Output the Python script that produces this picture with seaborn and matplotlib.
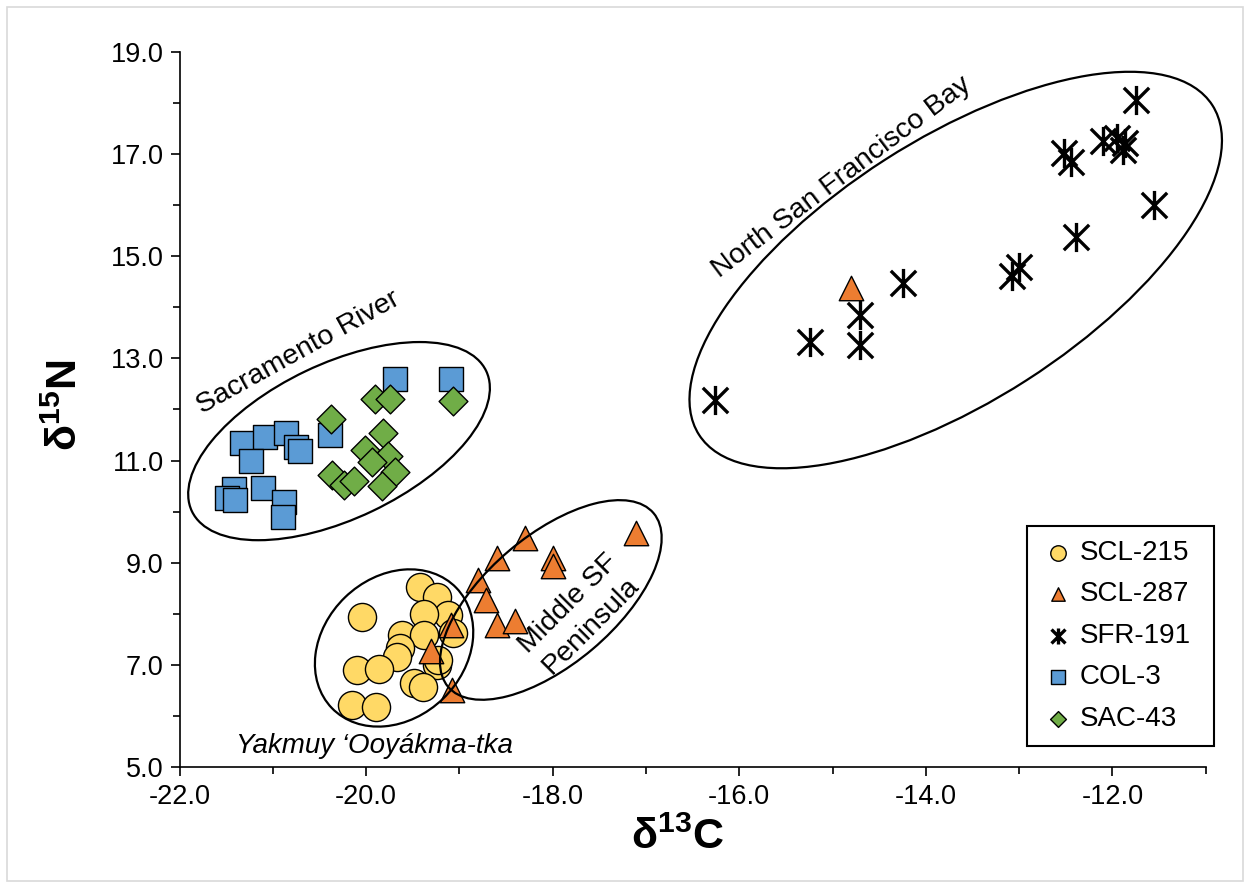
import numpy as np
import pandas as pd
import matplotlib
matplotlib.use('Agg')
import matplotlib.pyplot as plt
import matplotlib.transforms as mtransforms
from matplotlib.patches import Ellipse, Rectangle
from matplotlib.path import Path
from matplotlib.ticker import MultipleLocator, FormatStrFormatter
import seaborn as sns

# d13C / d15N values
scl215_c = [-19.42, -19.24, -20.04, -19.12, -19.38, -19.62, -19.07, -19.38, -19.64,
            -19.67, -20.10, -19.86, -19.24, -19.23, -19.49, -19.39, -20.15, -19.89]
scl215_n = [8.53, 8.33, 7.94, 7.98, 8.00, 7.58, 7.62, 7.58, 7.32,
            7.16, 6.90, 6.91, 7.00, 7.10, 6.64, 6.57, 6.21, 6.17]

scl287_c = [-17.11, -18.30, -18.60, -18.00, -18.00, -18.80, -18.71, -18.60, -18.40,
            -19.09, -19.30, -19.08, -14.80]
scl287_n = [9.58, 9.48, 9.09, 9.09, 8.94, 8.67, 8.27, 7.78, 7.86,
            7.78, 7.27, 6.51, 14.37]

sfr191_c = [-16.26, -15.24, -14.71, -14.71, -14.25, -13.08, -13.00, -12.39, -11.56,
            -12.52, -12.44, -12.10, -11.95, -11.89, -11.87, -11.75]
sfr191_n = [12.19, 13.33, 13.85, 13.26, 14.48, 14.61, 14.78, 15.38, 16.00,
            17.02, 16.85, 17.25, 17.31, 17.08, 17.21, 18.05]

col3_c = [-19.69, -19.09, -20.39, -21.33, -21.08, -20.86, -20.75, -20.71, -21.23,
          -21.42, -21.49, -21.41, -21.10, -20.88, -20.89]
col3_n = [12.60, 12.60, 11.50, 11.34, 11.47, 11.53, 11.27, 11.19, 10.99,
          10.44, 10.26, 10.23, 10.46, 10.18, 9.89]

sac43_c = [-19.90, -19.74, -19.07, -20.38, -19.82, -20.01, -19.77, -19.94, -19.69,
           -20.37, -20.24, -20.13, -19.83]
sac43_n = [12.20, 12.20, 12.17, 11.81, 11.53, 11.21, 11.08, 10.98, 10.78,
           10.72, 10.52, 10.59, 10.50]

sns.set_theme(style='ticks')
plt.rcParams['font.family'] = ['Liberation Sans', 'DejaVu Sans']
plt.rcParams['text.color'] = 'black'
plt.rcParams['axes.labelcolor'] = 'black'
plt.rcParams['mathtext.fontset'] = 'custom'
plt.rcParams['mathtext.rm'] = 'Liberation Sans'
plt.rcParams['mathtext.bf'] = 'Liberation Sans:bold'
plt.rcParams['mathtext.it'] = 'Liberation Sans:italic'

fig = plt.figure(figsize=(12.5, 8.88), dpi=100)
ax = fig.add_axes([0.1436, 0.1363, 0.8210, 0.8052])

# asterisk marker: X plus vertical bar
star = Path([(-1, -1), (1, 1), (-1, 1), (1, -1), (0, -1.15), (0, 1.15)],
            [Path.MOVETO, Path.LINETO, Path.MOVETO, Path.LINETO, Path.MOVETO, Path.LINETO])

sns.scatterplot(x=scl215_c, y=scl215_n, ax=ax, marker='o', s=410, color='#FFD966',
                edgecolor='black', linewidth=1.0, label='SCL-215', zorder=3)
sns.scatterplot(x=scl287_c, y=scl287_n, ax=ax, marker='^', s=310, color='#ED7D31',
                edgecolor='black', linewidth=1.0, label='SCL-287', zorder=3)
sns.scatterplot(x=sfr191_c, y=sfr191_n, ax=ax, marker=star, s=440, color='black',
                edgecolor='black', linewidth=2.4, label='SFR-191', zorder=3)
sns.scatterplot(x=col3_c, y=col3_n, ax=ax, marker='s', s=310, color='#5B9BD5',
                edgecolor='black', linewidth=1.0, label='COL-3', zorder=3)
sns.scatterplot(x=sac43_c, y=sac43_n, ax=ax, marker='D', s=215, color='#70AD47',
                edgecolor='black', linewidth=1.0, label='SAC-43', zorder=3)

ax.set_xlim(-22, -11)
ax.set_ylim(5, 19)
ax.set_xticks(np.arange(-22, -11.5, 2))
ax.set_yticks(np.arange(5, 19.5, 2))
ax.xaxis.set_minor_locator(MultipleLocator(1))
ax.yaxis.set_minor_locator(MultipleLocator(1))
ax.xaxis.set_major_formatter(FormatStrFormatter('%.1f'))
ax.yaxis.set_major_formatter(FormatStrFormatter('%.1f'))
ax.tick_params(which='major', direction='out', length=6.5, width=1.2, color='black',
               labelsize=19.5, labelcolor='black')
ax.tick_params(which='minor', direction='out', length=5, width=1.2, color='black')
ax.tick_params(axis='x', which='major', pad=6)
ax.tick_params(axis='y', which='major', pad=5)
sns.despine(ax=ax)
for side in ['left', 'bottom']:
    ax.spines[side].set_color('black')
    ax.spines[side].set_linewidth(1.2)

ax.set_xlabel(r'$\mathbf{\delta^{13}C}$', fontsize=31, va='center')
ax.set_ylabel(r'$\mathbf{\delta^{15}N}$', fontsize=31, va='center', rotation=90)
ax.xaxis.set_label_coords(0.485, -0.099)
ax.yaxis.set_label_coords(-0.111, 0.506)


def ring(cx, cy, w, h, angle):
    # ellipse sized in pixels, centred on a data point
    trans = fig.dpi_scale_trans + mtransforms.ScaledTranslation(cx, cy, ax.transData)
    ax.add_patch(Ellipse((0, 0), w / 100, h / 100, angle=angle, transform=trans,
                         fill=False, edgecolor='black', linewidth=1.6, zorder=5,
                         clip_on=False))


ring(-13.68, 14.73, 610, 262, 32.7)
ring(-20.29, 11.38, 326, 155, 25.5)
ring(-18.02, 8.27, 269, 129, 40.2)
ring(-19.70, 7.33, 173, 141, 44)

ax.text(-14.90, 16.55, 'North San Francisco Bay', fontsize=20.5, rotation=37,
        ha='center', va='center', rotation_mode='anchor')
ax.text(-20.73, 13.11, 'Sacramento River', fontsize=20.5, rotation=29,
        ha='center', va='center', rotation_mode='anchor')
ax.text(-17.71, 7.98, 'Middle SF\nPeninsula', fontsize=20.5, rotation=45,
        ha='center', va='center', rotation_mode='anchor',
        linespacing=1.25, multialignment='center')
ax.text(-19.91, 5.42, 'Yakmuy \u2018Ooy\u00e1kma-tka', fontsize=20, style='italic',
        ha='center', va='center')

handles, labels = ax.get_legend_handles_labels()
leg = ax.legend(handles, labels, loc='lower left', mode='expand',
                bbox_to_anchor=(0.826, 0.0294, 0.1822, 0.3),
                fontsize=20, markerscale=0.55, handlelength=1.2, handletextpad=0.2,
                labelspacing=0.56, borderpad=0.5, borderaxespad=0, fancybox=False,
                edgecolor='black', framealpha=1)
leg.get_frame().set_linewidth(1.5)
for t in leg.get_texts():
    t.set_color('black')

fig.patches.append(Rectangle((7 / 1250, 7 / 888), 1236 / 1250, 874 / 888,
                             transform=fig.transFigure, fill=False,
                             edgecolor='#d9d9d9', linewidth=1.2))

plt.savefig('out.png', dpi=100)
